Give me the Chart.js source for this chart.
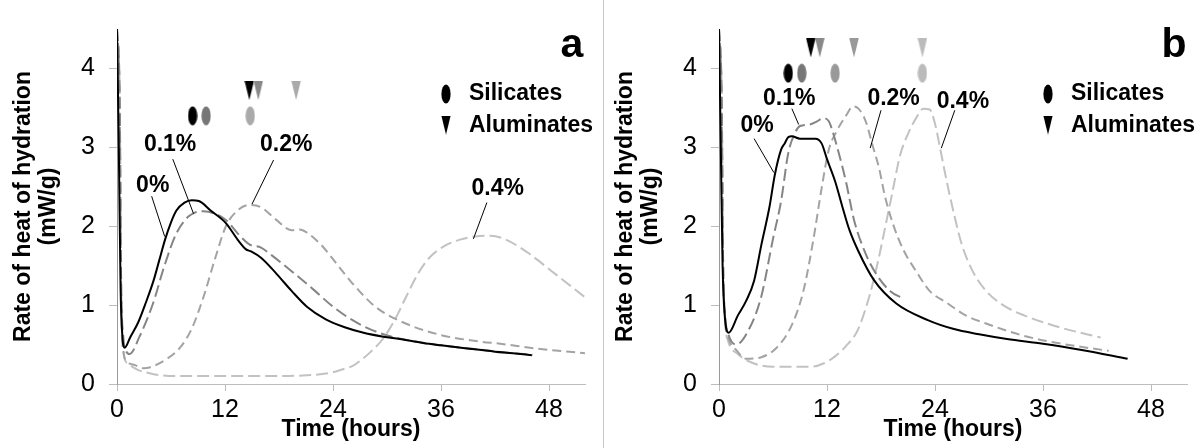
<!DOCTYPE html>
<html>
<head>
<meta charset="utf-8">
<script src="https://cdn.jsdelivr.net/npm/chart.js@4.4.1/dist/chart.umd.min.js"></script>
<style>
  html, body { margin: 0; padding: 0; background: #fff; }
  #wrap { position: relative; width: 1204px; height: 448px; background: #fff; overflow: hidden; }
  canvas { position: absolute; top: 0; }
</style>
</head>
<body>
<div id="wrap">
  <canvas id="ca" width="602" height="448" style="left:0px"></canvas>
  <canvas id="cb" width="602" height="448" style="left:602px"></canvas>
  <div style="position:absolute;left:603px;top:0;width:1px;height:448px;background:#c8c8c8"></div>
</div>
<script>
// ---------- shared ticks ----------
const xTickValues = [0, 12, 24, 36, 48];
const yTickValues = [0, 1, 2, 3, 4];
const seriesNames = ['0%', '0.1%', '0.2%', '0.4%'];

// ---------- panel a : time (h) and rate (mW/g) ----------
const timeA0 = [0, 0.2, 0.4, 0.6, 0.85, 1.5, 2.35, 3.2, 4.06, 4.7, 5.34, 6.0, 6.6, 7.5, 8.3, 9.1, 10.4, 12.1, 13.4, 14.3, 14.9, 16.0, 17.7, 19.4, 21.1, 23.2, 25.3, 27.4, 29.6, 31.4, 34.0, 36.0, 38.9, 42.0, 44.0, 46.1];
const rateA0 = [4.5, 3.0, 1.2, 0.6, 0.46, 0.6, 0.78, 1.03, 1.31, 1.57, 1.83, 2.05, 2.2, 2.3, 2.33, 2.32, 2.2, 2.04, 1.83, 1.71, 1.68, 1.6, 1.4, 1.18, 0.98, 0.82, 0.72, 0.65, 0.6, 0.57, 0.52, 0.49, 0.45, 0.41, 0.39, 0.365];

const timeA1 = [0, 0.3, 0.45, 0.7, 1.0, 1.4, 2.5, 4.0, 5.3, 6.6, 7.9, 8.6, 9.6, 10.9, 12.1, 13.4, 14.7, 16.0, 17.2, 19.4, 21.9, 24.0, 26.6, 29.6, 31.7, 36.0, 40.0, 43.0, 46.2];
const rateA1 = [4.5, 3.6, 1.4, 0.6, 0.42, 0.38, 0.6, 1.02, 1.51, 1.91, 2.12, 2.17, 2.19, 2.16, 2.08, 1.91, 1.77, 1.73, 1.63, 1.43, 1.19, 0.98, 0.78, 0.63, 0.57, 0.49, 0.44, 0.4, 0.37];

const timeA2 = [0, 0.3, 0.45, 0.7, 1.0, 2.0, 3.0, 3.6, 5.3, 7.0, 8.3, 9.6, 10.9, 12.1, 13.4, 14.7, 16.0, 17.7, 19.4, 20.3, 21.1, 22.8, 24.5, 26.2, 28.7, 31.4, 36.0, 40.2, 42.6, 46.6, 52.0];
const rateA2 = [4.5, 3.6, 1.3, 0.45, 0.3, 0.24, 0.2, 0.21, 0.3, 0.46, 0.7, 1.1, 1.59, 2.0, 2.2, 2.27, 2.24, 2.08, 1.95, 1.96, 1.92, 1.75, 1.51, 1.27, 0.98, 0.8, 0.62, 0.54, 0.51, 0.45, 0.39];

const timeA4 = [0, 0.3, 0.45, 0.7, 1.2, 2.3, 3.5, 4.9, 6.5, 8.3, 12.6, 16.8, 21.1, 23.0, 24.0, 25.2, 26.2, 27.3, 28.3, 29.6, 30.9, 32.1, 33.4, 34.7, 36.4, 38.1, 39.8, 41.5, 43.2, 45.7, 48.3, 52.0];
const rateA4 = [4.5, 3.6, 1.2, 0.4, 0.26, 0.18, 0.14, 0.11, 0.1, 0.1, 0.1, 0.1, 0.11, 0.13, 0.15, 0.19, 0.23, 0.32, 0.42, 0.58, 0.82, 1.1, 1.39, 1.6, 1.75, 1.83, 1.87, 1.88, 1.83, 1.66, 1.43, 1.1];

// markers panel a (peak times)
const silicatesTimeA = [8.4, 9.9, 14.8];
const silicatesLevelA = [3.4, 3.4, 3.4];
const aluminatesTimeA = [14.7, 15.7, 19.9];
const aluminatesLevelA = [3.72, 3.72, 3.72];

// ---------- panel b ----------
const timeB0 = [0, 0.2, 0.4, 0.65, 1.07, 2.1, 3.0, 3.9, 4.7, 5.6, 6.2, 6.9, 7.3, 7.7, 8.1, 9.0, 10.0, 10.7, 11.4, 12.0, 12.9, 13.7, 14.5, 15.5, 17.2, 19.7, 23.2, 26.0, 28.9, 32.0, 36.0, 40.3, 45.4];
const rateB0 = [4.5, 3.0, 1.5, 0.85, 0.65, 0.87, 1.05, 1.31, 1.76, 2.24, 2.65, 2.97, 3.05, 3.13, 3.14, 3.11, 3.11, 3.11, 3.05, 2.85, 2.57, 2.25, 1.95, 1.68, 1.32, 1.02, 0.81, 0.7, 0.63, 0.57, 0.51, 0.43, 0.32];

const timeB1 = [0, 0.3, 0.45, 0.7, 1.0, 1.9, 3.4, 4.7, 6.0, 6.9, 7.7, 8.4, 9.0, 10.1, 10.9, 11.6, 12.2, 12.6, 13.3, 14.1, 15.0, 16.3, 17.6, 19.0, 20.5];
const rateB1 = [4.5, 3.6, 1.6, 0.85, 0.65, 0.5, 0.71, 1.11, 1.84, 2.32, 2.93, 3.17, 3.27, 3.29, 3.33, 3.37, 3.33, 3.21, 2.93, 2.57, 2.08, 1.65, 1.37, 1.18, 1.08];

const timeB2 = [0, 0.3, 0.45, 0.7, 1.0, 2.0, 3.0, 4.7, 6.4, 8.1, 9.4, 10.5, 11.4, 12.2, 13.1, 14.1, 14.9, 15.5, 16.3, 17.1, 17.8, 18.4, 19.3, 20.4, 21.9, 23.4, 25.3, 27.4, 29.6, 33.9, 38.1, 43.3];
const rateB2 = [4.5, 3.6, 1.6, 0.8, 0.6, 0.42, 0.32, 0.34, 0.46, 0.75, 1.19, 1.84, 2.48, 2.97, 3.21, 3.4, 3.52, 3.49, 3.33, 3.01, 2.73, 2.4, 2.04, 1.72, 1.43, 1.18, 1.03, 0.87, 0.77, 0.61, 0.51, 0.42];

const timeB4 = [0, 0.3, 0.45, 0.7, 1.0, 2.1, 3.9, 6.0, 8.1, 10.3, 11.6, 12.9, 14.1, 15.4, 16.7, 17.6, 18.4, 19.3, 20.1, 21.0, 21.9, 22.7, 23.4, 24.0, 24.6, 25.3, 26.1, 27.0, 28.1, 29.6, 31.7, 33.9, 38.1, 42.4];
const rateB4 = [4.5, 3.6, 1.5, 0.75, 0.55, 0.38, 0.26, 0.22, 0.22, 0.22, 0.26, 0.35, 0.48, 0.68, 1.11, 1.52, 1.95, 2.45, 2.89, 3.17, 3.37, 3.49, 3.48, 3.3, 2.97, 2.57, 2.16, 1.76, 1.45, 1.19, 0.99, 0.87, 0.71, 0.59];

const silicatesTimeB = [7.7, 9.2, 12.9, 22.6];
const silicatesLevelB = [3.94, 3.94, 3.94, 3.94];
const aluminatesTimeB = [10.2, 11.2, 15.0, 22.6];
const aluminatesLevelB = [4.26, 4.26, 4.26, 4.26];

// ---------- annotation anchors (data coordinates) ----------
const noteLabelXA = [3.97, 5.9, 18.8, 42.3];
const noteLabelYA = [2.52, 3.03, 3.03, 2.48];
const noteFromXA = [3.85, 6.2, 17.4, 41.1];
const noteFromYA = [2.38, 2.85, 2.84, 2.30];
const noteToXA = [5.3, 8.5, 15.0, 39.6];
const noteToYA = [1.87, 2.16, 2.28, 1.84];

const noteLabelXB = [4.24, 7.8, 19.4, 27.1];
const noteLabelYB = [3.27, 3.62, 3.62, 3.58];
const noteFromXB = [3.9, 8.1, 18.0, 26.2];
const noteFromYB = [3.11, 3.49, 3.47, 3.47];
const noteToXB = [6.1, 8.85, 16.8, 24.7];
const noteToYB = [2.68, 3.29, 2.99, 2.99];

// ---------- styles ----------
const FONT = "'Liberation Sans', Arial, Helvetica, sans-serif";
const NARROW = "'Liberation Sans Narrow', 'Arial Narrow', " + FONT;
Chart.defaults.font.family = FONT;
Chart.defaults.color = '#000';
const lineColors = ['#000000', '#858585', '#a3a3a3', '#c2c2c2'];
const lineDashes = [[], [12, 5], [9, 5], [12, 5]];

function makeEllipse(color) {
  const c = document.createElement('canvas');
  c.width = 10; c.height = 20;
  const g = c.getContext('2d');
  g.fillStyle = color;
  g.beginPath();
  g.ellipse(5, 10, 4.6, 9.4, 0, 0, Math.PI * 2);
  g.fill();
  return c;
}
function makeTriangle(color) {
  const c = document.createElement('canvas');
  c.width = 10; c.height = 19;
  const g = c.getContext('2d');
  g.fillStyle = color;
  g.beginPath();
  g.moveTo(0.3, 0); g.lineTo(9.7, 0); g.lineTo(5, 19); g.closePath();
  g.fill();
  return c;
}

function pts(t, v) { return t.map((x, i) => ({ x: x, y: v[i] })); }

function makePanel(id, series, sil, alu, notes, letter) {
  const datasets = series.map((s, i) => ({
    type: 'line',
    label: seriesNames[i],
    data: pts(s[0], s[1]),
    borderColor: lineColors[i],
    borderWidth: 2,
    borderDash: lineDashes[i],
    pointRadius: 0,
    cubicInterpolationMode: 'monotone',
    fill: false
  }));
  datasets.push({
    type: 'scatter', label: 'Silicates', data: pts(sil.t, sil.v),
    pointStyle: sil.colors.map(makeEllipse), pointRadius: 5
  });
  datasets.push({
    type: 'scatter', label: 'Aluminates', data: pts(alu.t, alu.v),
    pointStyle: alu.colors.map(makeTriangle), pointRadius: 5
  });

  const legendEllipse = makeEllipse('#000');
  const legendTriangle = makeTriangle('#000');

  const decor = {
    id: 'decor',
    afterDatasetsDraw(chart) {
      const ctx = chart.ctx;
      const xs = chart.scales.x, ys = chart.scales.y;
      ctx.save();
      ctx.strokeStyle = '#000';
      ctx.lineWidth = 1;
      ctx.fillStyle = '#000';
      ctx.font = 'bold 23px ' + FONT;
      ctx.textAlign = 'center';
      ctx.textBaseline = 'middle';
      for (let i = 0; i < notes.lx.length; i++) {
        ctx.beginPath();
        ctx.moveTo(xs.getPixelForValue(notes.fx[i]), ys.getPixelForValue(notes.fy[i]));
        ctx.lineTo(xs.getPixelForValue(notes.tx[i]), ys.getPixelForValue(notes.ty[i]));
        ctx.stroke();
        ctx.fillText(seriesNames[i], xs.getPixelForValue(notes.lx[i]), ys.getPixelForValue(notes.ly[i]));
      }
      ctx.drawImage(legendEllipse, 446 - 5, 94 - 10);
      ctx.drawImage(legendTriangle, 446 - 5, 125 - 9.5);
      ctx.textAlign = 'left';
      ctx.fillText('Silicates', 469, 94);
      ctx.fillText('Aluminates', 469, 126);
      ctx.font = 'bold 41px ' + FONT;
      ctx.textAlign = 'center';
      ctx.fillText(letter, 572, 46);
      ctx.restore();
    }
  };

  return new Chart(document.getElementById(id), {
    data: { datasets },
    options: {
      responsive: false,
      animation: false,
      devicePixelRatio: 1,
      layout: { padding: { left: 0, right: 17, top: 14, bottom: 0 } },
      plugins: { legend: { display: false }, tooltip: { enabled: false } },
      scales: {
        x: {
          type: 'linear', min: 0, max: 52,
          afterBuildTicks: (s) => { s.ticks = xTickValues.map(v => ({ value: v })); },
          afterFit: (s) => { s.height = 64; },
          ticks: { font: { family: NARROW, size: 25, lineHeight: 1.2 }, color: '#000', padding: 4, maxRotation: 0 },
          grid: { drawOnChartArea: false, drawTicks: true, tickLength: 7, color: '#bdbdbd' },
          border: { color: '#bdbdbd', width: 1 },
          title: { display: true, text: 'Time (hours)', color: '#000',
                   font: { size: 23, weight: 'bold', lineHeight: 1.2 }, padding: { top: 0, bottom: 5 } }
        },
        y: {
          type: 'linear', min: 0, max: 4.5,
          afterBuildTicks: (s) => { s.ticks = yTickValues.map(v => ({ value: v })); },
          afterFit: (s) => { s.width = 117; },
          ticks: { font: { family: NARROW, size: 25 }, color: '#000', padding: 14 },
          grid: { drawOnChartArea: false, drawTicks: true, tickLength: 8, color: '#bdbdbd' },
          border: { color: '#999999', width: 1 },
          title: { display: true, text: ['Rate of heat of hydration', '(mW/g)'], color: '#000',
                   font: { size: 23, weight: 'bold', lineHeight: 1.1 }, padding: { top: 11, bottom: 0 } }
        }
      }
    },
    plugins: [decor]
  });
}

makePanel('ca',
  [[timeA0, rateA0], [timeA1, rateA1], [timeA2, rateA2], [timeA4, rateA4]],
  { t: silicatesTimeA, v: silicatesLevelA, colors: ['#000000', '#777777', '#aaaaaa'] },
  { t: aluminatesTimeA, v: aluminatesLevelA, colors: ['#000000', '#888888', '#aaaaaa'] },
  { lx: noteLabelXA, ly: noteLabelYA, fx: noteFromXA, fy: noteFromYA, tx: noteToXA, ty: noteToYA },
  'a');

makePanel('cb',
  [[timeB0, rateB0], [timeB1, rateB1], [timeB2, rateB2], [timeB4, rateB4]],
  { t: silicatesTimeB, v: silicatesLevelB, colors: ['#000000', '#777777', '#999999', '#bbbbbb'] },
  { t: aluminatesTimeB, v: aluminatesLevelB, colors: ['#000000', '#888888', '#999999', '#bbbbbb'] },
  { lx: noteLabelXB, ly: noteLabelYB, fx: noteFromXB, fy: noteFromYB, tx: noteToXB, ty: noteToYB },
  'b');
</script>
</body>
</html>
